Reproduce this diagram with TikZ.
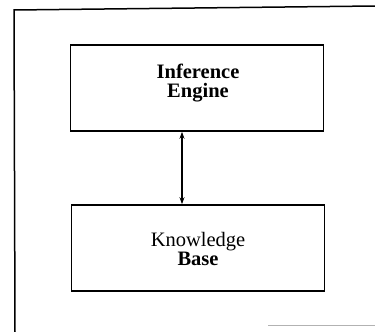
\documentclass[tikz,border=0pt]{standalone}
\usepackage{fontspec}
\setmainfont{Liberation Serif}
\usetikzlibrary{arrows.meta}
\begin{document}
\begin{tikzpicture}[x=1pt,y=-1pt,
  blk/.style={draw,line width=1.6pt,minimum width=253pt,minimum height=86pt,inner sep=0pt},
  lbl/.style={align=center,inner sep=0pt,font=\fontsize{20.5}{19.5}\selectfont},
  frame/.style={line width=1.5pt}]
\useasboundingbox (0,0) rectangle (375,332);
\fill[white] (0,0) rectangle (375,332);
\node[blk] (ie) at (197,88) {};
\node[lbl] (iet) at (198,83) {\textbf{Inference}\\\textbf{Engine}};
\node[blk] (kb) at (198,248) {};
\node[lbl] (kbt) at (198,249) {Knowledge\\\textbf{Base}};
\draw[line width=1.4pt,{Stealth[length=7pt,width=5pt]}-{Stealth[length=7pt,width=5pt]}] (ie.south -| 182,0) -- (kb.north -| 182,0);
\coordinate (tl) at (14,10);
\coordinate (tr) at (375,6);
\coordinate (bl) at (15,332);
\draw[frame] (bl) -- (tl) -- (tr);
\coordinate (g1) at (268,325);
\coordinate (g2) at (375,325);
\draw[gray!60,line width=0.8pt] (g1) -- (g2);
\end{tikzpicture}
\end{document}
